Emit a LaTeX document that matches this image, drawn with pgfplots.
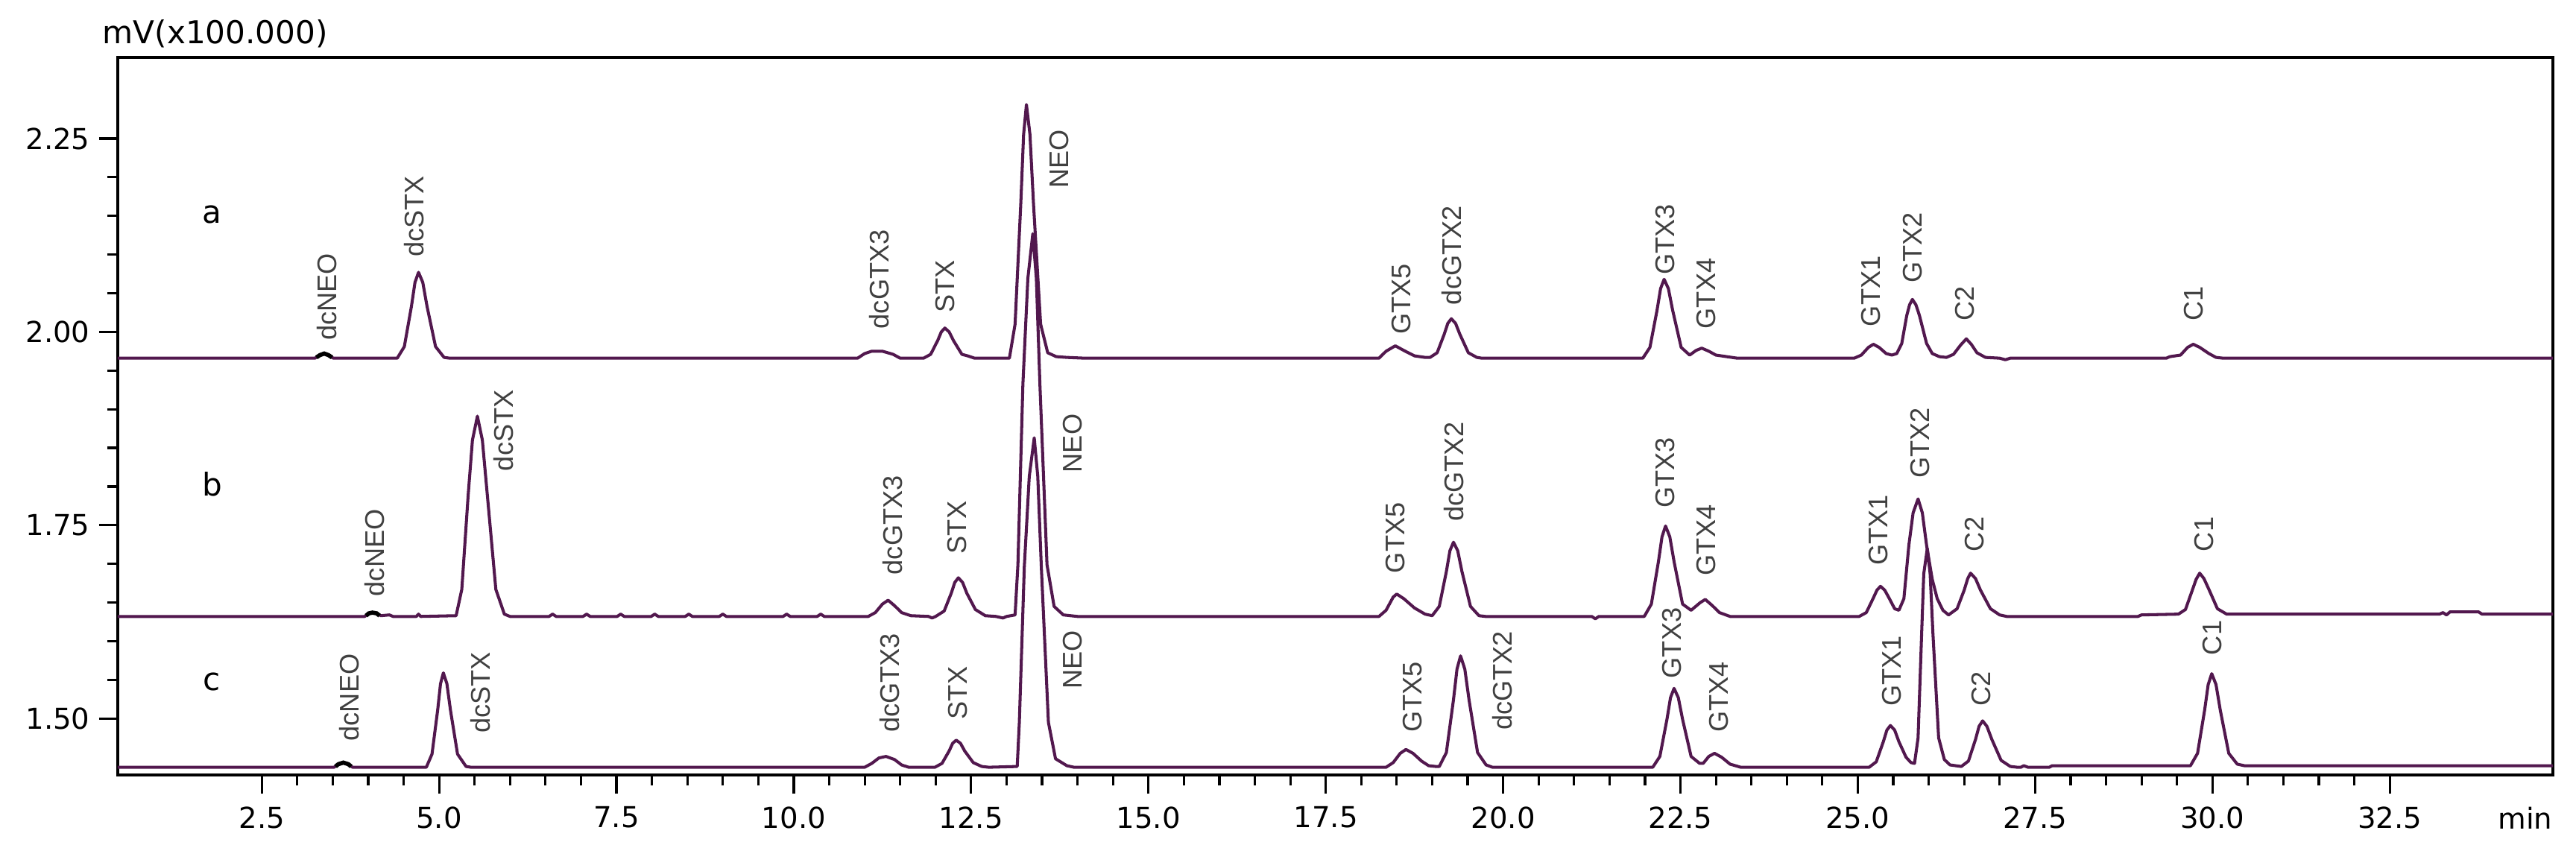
\documentclass[border=0pt]{standalone}
\usepackage{fontspec}
\setmainfont{DejaVu Sans}
\newfontfamily\labfont{Liberation Sans}
\usepackage{pgfplots}
\pgfplotsset{compat=1.18}
\definecolor{trace}{RGB}{82,24,78}
\definecolor{lab}{RGB}{64,64,64}
% peak label: rotated, starting just above the peak
\newcommand{\pk}[3]{\node[rotate=90,anchor=west,inner sep=1pt,text=lab,font=\labfont\fontsize{10.3}{11}\selectfont] at (axis cs:#1,#2) {#3};}

\begin{document}
\begin{tikzpicture}
\path[use as bounding box] (-1.58,-0.97) rectangle (32.98,10.40);
\begin{axis}[
  scale only axis,
  width=32.67cm, height=9.63cm,
  xmin=0.47, xmax=34.8,
  ymin=1.427, ymax=2.355,
  xtick={2.5,5,...,32.5},
  ytick={1.5,1.75,2,2.25},
  minor x tick num=4,
  minor y tick num=4,
  xtick pos=bottom, ytick pos=left,
  tick align=outside,
  major tick length=0.25cm,
  minor tick length=0.14cm,
  every tick/.style={black, line width=0.9pt},
  axis line style={line width=1.1pt},
  x tick label style={/pgf/number format/fixed, /pgf/number format/fixed zerofill, /pgf/number format/precision=1, yshift=-0.05cm},
  y tick label style={/pgf/number format/fixed, /pgf/number format/fixed zerofill, /pgf/number format/precision=2},
  /pgf/number format/assume math mode=true,
  tick label style={font=\fontsize{11}{13}\selectfont},
  clip=false,
  trace/.style={color=trace, line width=1.15pt, line join=round},
]
% trace a
\addplot[trace] coordinates {
(0.47,1.966) (3.25,1.966) (3.32,1.970) (3.38,1.972) (3.44,1.970) (3.51,1.966)
(4.41,1.966) (4.51,1.981) (4.61,2.033) (4.66,2.064) (4.71,2.077) (4.77,2.064) (4.83,2.033) (4.95,1.981) (5.07,1.967) (5.15,1.966)
(10.90,1.966) (11.00,1.972) (11.10,1.975) (11.25,1.975) (11.40,1.971) (11.50,1.966)
(11.83,1.966) (11.93,1.971) (12.03,1.989) (12.08,2.000) (12.13,2.005) (12.19,2.000) (12.25,1.989) (12.37,1.971) (12.45,1.969) (12.55,1.966)
(13.04,1.966) (13.12,2.010) (13.20,2.165) (13.24,2.255) (13.28,2.294) (13.33,2.255) (13.38,2.165) (13.48,2.010) (13.58,1.973) (13.70,1.968) (13.85,1.967) (14.10,1.966)
(18.25,1.966) (18.35,1.975) (18.48,1.982) (18.60,1.976) (18.75,1.969) (18.90,1.967)
(18.97,1.967) (19.07,1.973) (19.17,1.997) (19.22,2.011) (19.27,2.017) (19.33,2.011) (19.39,1.997) (19.51,1.973) (19.63,1.967) (19.70,1.966)
(21.97,1.966) (22.07,1.980) (22.17,2.028) (22.22,2.056) (22.27,2.068) (22.33,2.056) (22.39,2.028) (22.51,1.980) (22.63,1.970)
(22.72,1.976) (22.80,1.979) (22.90,1.975) (23.00,1.970) (23.15,1.968) (23.30,1.966)
(24.95,1.966) (25.05,1.970) (25.15,1.980) (25.22,1.984) (25.30,1.980) (25.40,1.972) (25.48,1.970)
(25.55,1.972) (25.62,1.985) (25.69,2.021) (25.73,2.035) (25.77,2.042) (25.82,2.035) (25.87,2.021) (25.97,1.985) (26.05,1.972) (26.15,1.968)
(26.25,1.967) (26.35,1.971) (26.45,1.983) (26.53,1.991) (26.60,1.984) (26.68,1.973) (26.80,1.967) (27.00,1.966) (27.08,1.964) (27.15,1.966)
(29.35,1.966) (29.40,1.968) (29.55,1.970) (29.65,1.980) (29.73,1.984) (29.82,1.980) (29.95,1.972) (30.05,1.967) (30.15,1.966) (34.80,1.966)
};
% trace b
\addplot[trace] coordinates {
(0.47,1.632) (3.95,1.632) (4.01,1.636) (4.06,1.637) (4.12,1.636) (4.18,1.633) (4.30,1.634) (4.35,1.632) (4.68,1.632) (4.71,1.635) (4.74,1.632)
(5.24,1.633) (5.32,1.667) (5.41,1.789) (5.47,1.860) (5.54,1.891) (5.61,1.860) (5.68,1.789) (5.80,1.667) (5.92,1.635) (6.00,1.632)
(6.55,1.632) (6.60,1.635) (6.65,1.632) (7.03,1.632) (7.08,1.635) (7.13,1.632) (7.51,1.632) (7.56,1.635) (7.61,1.632)
(7.99,1.632) (8.04,1.635) (8.09,1.632) (8.47,1.632) (8.52,1.635) (8.57,1.632) (8.95,1.632) (9.00,1.635) (9.05,1.632)
(9.85,1.632) (9.90,1.635) (9.95,1.632) (10.33,1.632) (10.38,1.635) (10.43,1.632)
(11.05,1.632) (11.15,1.637) (11.25,1.648) (11.33,1.653) (11.42,1.646) (11.52,1.637) (11.65,1.633) (11.90,1.632) (11.95,1.630) (12.00,1.632)
(12.12,1.639) (12.22,1.662) (12.27,1.676) (12.32,1.682) (12.38,1.676) (12.44,1.662) (12.56,1.641) (12.70,1.633) (12.85,1.632) (12.95,1.630) (13.00,1.632)
(13.12,1.634) (13.16,1.699) (13.23,1.932) (13.30,2.069) (13.37,2.127) (13.42,2.069) (13.47,1.932) (13.57,1.699) (13.67,1.645) (13.80,1.634) (14.00,1.632)
(18.25,1.632) (18.35,1.640) (18.45,1.657) (18.50,1.661) (18.60,1.655) (18.75,1.643) (18.90,1.635) (19.00,1.633)
(19.10,1.645) (19.20,1.690) (19.25,1.717) (19.30,1.728) (19.36,1.717) (19.42,1.690) (19.54,1.645) (19.66,1.633) (19.75,1.632)
(21.25,1.632) (21.30,1.629) (21.35,1.632)
(21.99,1.632) (22.09,1.648) (22.19,1.703) (22.24,1.735) (22.29,1.749) (22.35,1.735) (22.41,1.703) (22.53,1.648) (22.65,1.640)
(22.78,1.650) (22.85,1.654) (22.95,1.646) (23.05,1.637) (23.20,1.632)
(25.02,1.632) (25.12,1.637) (25.22,1.656) (25.27,1.666) (25.32,1.671) (25.38,1.666) (25.44,1.656) (25.52,1.642) (25.58,1.640)
(25.65,1.655) (25.72,1.724) (25.78,1.766) (25.85,1.784) (25.91,1.766) (25.97,1.724) (26.05,1.680) (26.12,1.655) (26.20,1.640) (26.28,1.634)
(26.40,1.642) (26.50,1.666) (26.55,1.681) (26.59,1.688) (26.66,1.681) (26.73,1.666) (26.87,1.642) (27.00,1.634) (27.10,1.632)
(28.95,1.632) (29.00,1.634)
(29.52,1.635) (29.62,1.641) (29.72,1.667) (29.77,1.680) (29.82,1.688) (29.88,1.681) (29.95,1.667) (30.07,1.642) (30.20,1.635)
(33.20,1.635) (33.25,1.637) (33.30,1.634) (33.35,1.638) (33.75,1.638) (33.80,1.635) (34.80,1.635)
};
% trace c
\addplot[trace] coordinates {
(0.47,1.437) (3.52,1.437) (3.58,1.441) (3.65,1.443) (3.72,1.441) (3.78,1.437)
(4.82,1.437) (4.90,1.454) (4.98,1.511) (5.02,1.545) (5.06,1.559) (5.11,1.545) (5.16,1.511) (5.26,1.454) (5.38,1.438) (5.45,1.437)
(11.00,1.437) (11.10,1.442) (11.20,1.449) (11.30,1.451) (11.42,1.447) (11.52,1.440) (11.62,1.437)
(11.99,1.437) (12.09,1.442) (12.19,1.458) (12.24,1.468) (12.29,1.472) (12.35,1.468) (12.41,1.458) (12.53,1.443) (12.65,1.438) (12.75,1.437)
(13.15,1.438) (13.18,1.495) (13.25,1.696) (13.32,1.813) (13.39,1.863) (13.44,1.813) (13.49,1.696) (13.59,1.495) (13.69,1.448) (13.85,1.439) (13.95,1.437)
(18.35,1.437) (18.45,1.443) (18.55,1.455) (18.63,1.460) (18.73,1.455) (18.85,1.445) (18.95,1.439) (19.05,1.438)
(19.10,1.438) (19.20,1.456) (19.30,1.524) (19.35,1.564) (19.40,1.581) (19.46,1.564) (19.52,1.524) (19.64,1.456) (19.76,1.440) (19.85,1.437)
(22.11,1.437) (22.21,1.451) (22.31,1.499) (22.36,1.527) (22.41,1.539) (22.47,1.527) (22.53,1.499) (22.65,1.451) (22.77,1.442)
(22.82,1.442) (22.90,1.451) (22.98,1.455) (23.08,1.450) (23.20,1.441) (23.35,1.437)
(25.16,1.437) (25.26,1.444) (25.36,1.470) (25.41,1.485) (25.46,1.491) (25.52,1.485) (25.58,1.470) (25.68,1.450) (25.75,1.443)
(25.80,1.442) (25.85,1.475) (25.90,1.609) (25.93,1.687) (25.98,1.720) (26.02,1.687) (26.06,1.609) (26.14,1.475) (26.22,1.447) (26.30,1.440)
(26.46,1.438) (26.56,1.445) (26.66,1.473) (26.71,1.490) (26.76,1.497) (26.82,1.490) (26.89,1.473) (27.02,1.446) (27.15,1.438) (27.25,1.437)
(27.30,1.437) (27.34,1.439) (27.40,1.437) (27.70,1.437) (27.74,1.439)
(29.69,1.439) (29.79,1.455) (29.89,1.511) (29.94,1.544) (29.99,1.558) (30.05,1.544) (30.11,1.511) (30.23,1.455) (30.35,1.441) (30.45,1.439) (34.80,1.439)
};
% dcNEO bumps drawn in black
\addplot[black, line width=1.6pt] coordinates {(3.27,1.967) (3.32,1.970) (3.38,1.972) (3.44,1.970) (3.49,1.967)};
\addplot[black, line width=1.6pt] coordinates {(3.97,1.633) (4.01,1.636) (4.06,1.637) (4.12,1.636) (4.16,1.633)};
\addplot[black, line width=1.6pt] coordinates {(3.54,1.438) (3.58,1.441) (3.65,1.443) (3.72,1.441) (3.76,1.438)};

% trace letters
\node[font=\fontsize{12}{14}\selectfont] at (axis cs:1.8,2.152) {a};
\node[font=\fontsize{12}{14}\selectfont] at (axis cs:1.8,1.803) {b};
\node[font=\fontsize{12}{14}\selectfont] at (axis cs:1.8,1.547) {c};

% labels, trace a
\pk{3.42}{1.985}{dcNEO}
\pk{4.65}{2.093}{dcSTX}
\pk{11.20}{2.000}{dcGTX3}
\pk{12.13}{2.021}{STX}
\pk{13.74}{2.182}{NEO}
\pk{18.57}{1.993}{GTX5}
\pk{19.27}{2.031}{dcGTX2}
\pk{22.29}{2.070}{GTX3}
\pk{22.86}{2.000}{GTX4}
\pk{25.19}{2.003}{GTX1}
\pk{25.77}{2.059}{GTX2}
\pk{26.51}{2.010}{C2}
\pk{29.73}{2.010}{C1}
% labels, trace b
\pk{4.09}{1.654}{dcNEO}
\pk{5.91}{1.816}{dcSTX}
\pk{11.39}{1.682}{dcGTX3}
\pk{12.30}{1.709}{STX}
\pk{13.93}{1.814}{NEO}
\pk{18.48}{1.684}{GTX5}
\pk{19.31}{1.751}{dcGTX2}
\pk{22.29}{1.768}{GTX3}
\pk{22.86}{1.681}{GTX4}
\pk{25.29}{1.694}{GTX1}
\pk{25.88}{1.807}{GTX2}
\pk{26.65}{1.712}{C2}
\pk{29.88}{1.712}{C1}
% labels, trace c
\pk{3.73}{1.467}{dcNEO}
\pk{5.58}{1.477}{dcSTX}
\pk{11.35}{1.478}{dcGTX3}
\pk{12.31}{1.495}{STX}
\pk{13.93}{1.534}{NEO}
\pk{18.72}{1.478}{GTX5}
\pk{19.99}{1.481}{dcGTX2}
\pk{22.38}{1.548}{GTX3}
\pk{23.04}{1.478}{GTX4}
\pk{25.48}{1.512}{GTX1}
\pk{26.74}{1.512}{C2}
\pk{30.00}{1.578}{C1}

% axis captions
\node[anchor=south west, inner sep=0pt, font=\fontsize{12}{14}\selectfont] at (rel axis cs:0,1) [xshift=-0.21cm, yshift=0.12cm] {mV(x100.000)};
\node[anchor=north east, inner sep=0pt, font=\fontsize{11}{13}\selectfont] at (rel axis cs:1,0) [yshift=-0.42cm] {min};
\end{axis}
\end{tikzpicture}
\end{document}
